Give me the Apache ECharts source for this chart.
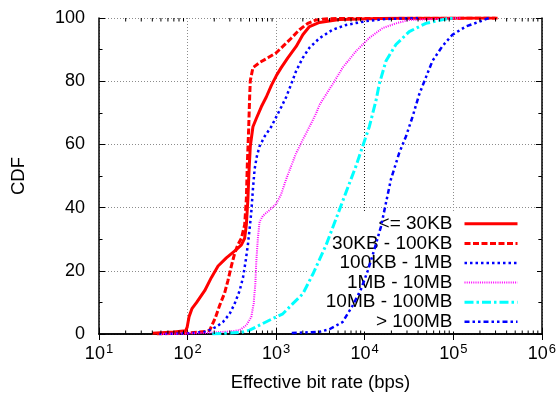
<!DOCTYPE html>
<html>
<head>
<meta charset="utf-8">
<script src="https://cdn.jsdelivr.net/npm/echarts@6/dist/echarts.min.js"></script>
<style>
  html, body { margin: 0; padding: 0; background: #fff; }
  #chart { width: 559px; height: 397px; }
</style>
</head>
<body>
<div id="chart"></div>
<script>
// CDF of effective bit rate, one curve per transfer-size class: [bps, percent]
const seriesNames = ['<= 30KB', '30KB - 100KB', '100KB - 1MB', '1MB - 10MB', '10MB - 100MB', '> 100MB'];

const upTo30KB = [[40,0.2],[70,0.6],[95,1.0],[99,2.2],[104,5.5],[112,8],[126,9.9],[156,13.7],[186,17.9],[221,21.5],[274,24.1],[355,26.7],[405,28.2],[441,30.3],[461,34.6],[480,42.8],[493,51.1],[511,59.5],[547,65.6],[597,68.2],[680,71.9],[774,75],[881,78.6],[1003,81.7],[1141,84.3],[1354,87.4],[1684,91],[2000,94.7],[2378,97.3],[3082,98.6],[5176,99.5],[20000,99.9],[316000,100]];

const from30To100KB = [[45,0],[100,0.3],[160,0.8],[178,1.2],[205,5],[230,9],[262,13],[286,17],[312,21.5],[340,25.5],[370,28.3],[405,30.3],[441,34.5],[461,42.8],[473,54],[489,64.6],[502,75],[511,80.2],[547,84.3],[650,85.9],[806,87.4],[1003,89],[1190,91],[1480,93.6],[1834,96.3],[2275,98.3],[2828,99.4],[4000,99.8],[300000,100]];

const from100KBTo1MB = [[48,0],[100,0.2],[163,0.7],[212,2.3],[251,3.8],[299,6.4],[340,9.6],[387,13.7],[422,17.8],[452,23],[480,28.3],[502,33.4],[524,38.6],[547,45.9],[571,52.1],[606,56.3],[650,59.4],[740,62.5],[881,65.6],[1003,68.7],[1141,71.8],[1299,75],[1480,79.1],[1684,83.3],[2000,87.4],[2378,90.6],[3082,93.6],[4350,96.3],[6160,97.8],[10340,99],[17370,99.7],[40000,100]];

const from1To10MB = [[50,0],[150,0.3],[300,0.8],[387,1.2],[461,2.8],[524,5.4],[557,9.6],[582,15.8],[597,23],[622,30.3],[650,35.5],[708,37.4],[881,39.7],[1003,41.2],[1141,44.3],[1299,49],[1480,53.2],[1684,57.3],[2000,61.5],[2378,65.6],[2828,69.8],[3082,72.5],[4350,79.1],[5638,84.3],[7980,89.5],[11270,93.7],[15910,96.8],[22520,98.3],[31800,99.4],[82330,99.8],[120000,100]];

const from10To100MB = [[190,0],[400,0.5],[502,1.2],[650,2.8],[918,4.9],[1190,6.4],[1542,9.6],[2000,12.7],[2591,18.9],[3666,28.2],[4752,36.5],[6160,44.9],[7980,53.2],[9470,59.4],[11270,65.6],[13410,73.9],[14600,79.1],[17370,86.4],[22520,91.6],[31800,95.7],[49020,98.3],[82330,99.7],[107500,100]];

const over100MB = [[1500,0.3],[3082,0.7],[3995,1.5],[5638,3.8],[7305,9],[9085,14.2],[10780,19.9],[12830,26.7],[15260,34],[17370,41.5],[19780,49],[24520,57.3],[29180,62.5],[34630,68.7],[41200,75.8],[49020,81.2],[58160,86.4],[75400,91.1],[97700,94.7],[138300,97.3],[195200,98.8],[251000,100]];

const curves = [upTo30KB, from30To100KB, from100KBTo1MB, from1To10MB, from10To100MB, over100MB];

// Axis ranges and ticks
const xMin = 10, xMax = 1e6;
const yMin = 0, yMax = 100, yStep = 20;
// Logarithmic minor ticks (2..9 within each decade)
const xMinorTicks = [];
for (let d = 10; d < xMax; d *= 10) {
  for (let m = 2; m <= 9; m++) xMinorTicks.push(d * m);
}

const FONT = '"Liberation Sans", Arial, Helvetica, sans-serif';

const lineStyles = [
  { color: '#ff0000', width: 3, type: 'solid' },
  { color: '#ff0000', width: 3, type: [6, 2.5] },
  { color: '#0000ff', width: 2.5, type: [2.5, 3] },
  { color: '#ff00ff', width: 2, type: [1, 1.2] },
  { color: '#00ffff', width: 3, type: [9, 3, 2.5, 3] },
  { color: '#0000ff', width: 2.5, type: [5, 3, 2.5, 3, 2.5, 3] }
];

const lineSeries = curves.map((data, i) => ({
  name: seriesNames[i],
  type: 'line',
  data: data,
  symbol: 'none',
  smooth: false,
  z: 2,
  lineStyle: lineStyles[i],
  itemStyle: { color: lineStyles[i].color },
  emphasis: { disabled: true }
}));

const minorTickSeries = {
  type: 'custom',
  silent: true,
  clip: false,
  z: 3,
  data: xMinorTicks.map(v => [v, yMin]),
  encode: { x: 0, y: 1 },
  renderItem: function (params, api) {
    const v = api.value(0);
    const b = api.coord([v, yMin]);
    const t = api.coord([v, yMax]);
    return {
      type: 'group',
      children: [
        { type: 'line', shape: { x1: b[0], y1: b[1], x2: b[0], y2: b[1] - 3.5 }, style: { stroke: '#000', lineWidth: 1 } },
        { type: 'line', shape: { x1: t[0], y1: t[1], x2: t[0], y2: t[1] + 3.5 }, style: { stroke: '#000', lineWidth: 1 } }
      ]
    };
  }
};

const gridGrey = '#8c8c8c';
const axisBlack = { lineStyle: { color: '#000', width: 1.5 } };

const chart = echarts.init(document.getElementById('chart'), null, { renderer: 'canvas' });
chart.setOption({
  animation: false,
  backgroundColor: '#fff',
  grid: { left: 99, right: 16, top: 18, bottom: 58, containLabel: false },
  xAxis: [
    {
      type: 'log', logBase: 10, min: xMin, max: xMax,
      position: 'bottom',
      name: 'Effective bit rate (bps)', nameLocation: 'middle', nameGap: 39,
      nameTextStyle: { fontFamily: FONT, fontSize: 18.5, color: '#000' },
      axisLine: axisBlack,
      axisTick: { show: true, inside: true, length: 6, lineStyle: { color: '#000', width: 1 } },
      minorTick: { show: false },
      splitLine: { show: true, lineStyle: { color: [gridGrey, gridGrey, gridGrey, '#222', gridGrey, gridGrey], width: 1, type: [1, 2] } },
      axisLabel: {
        margin: 9,
        fontFamily: FONT, color: '#000',
        formatter: function (v) {
          const e = Math.round(Math.log10(v));
          return '{b|10}{s|' + e + '}';
        },
        rich: {
          b: { fontFamily: FONT, fontSize: 18, color: '#000' },
          s: { fontFamily: FONT, fontSize: 13, color: '#000', padding: [0, 0, 10, 1] }
        }
      }
    },
    {
      type: 'log', logBase: 10, min: xMin, max: xMax,
      position: 'top',
      axisLine: axisBlack,
      axisTick: { show: true, inside: true, length: 6, lineStyle: { color: '#000', width: 1 } },
      axisLabel: { show: false },
      splitLine: { show: false }
    }
  ],
  yAxis: [
    {
      type: 'value', min: yMin, max: yMax, interval: yStep,
      position: 'left',
      name: 'CDF', nameLocation: 'middle', nameGap: 71, nameRotate: 90,
      nameTextStyle: { fontFamily: FONT, fontSize: 18.5, color: '#000' },
      axisLine: { show: true, lineStyle: { color: '#000', width: 1.5 } },
      axisTick: { show: true, inside: true, length: 6, lineStyle: { color: '#000', width: 1 } },
      minorTick: { show: true, splitNumber: 2, length: 3.5, lineStyle: { color: '#000', width: 1 } },
      splitLine: { show: true, lineStyle: { color: gridGrey, width: 1, type: [1, 2] } },
      axisLabel: { margin: 14, fontFamily: FONT, fontSize: 18, color: '#000' }
    },
    {
      type: 'value', min: yMin, max: yMax, interval: yStep,
      position: 'right',
      axisLine: { show: true, lineStyle: { color: '#000', width: 1.5 } },
      axisTick: { show: true, inside: true, length: 6, lineStyle: { color: '#000', width: 1 } },
      minorTick: { show: true, splitNumber: 2, length: 3.5, lineStyle: { color: '#000', width: 1 } },
      splitLine: { show: false },
      axisLabel: { show: false }
    }
  ],
  legend: {
    data: seriesNames,
    orient: 'vertical',
    align: 'right',
    right: 22,
    top: 213,
    z: 1,
    padding: [1, 18, 0, 18],
    itemGap: 0,
    itemWidth: 53,
    itemHeight: 14,
    backgroundColor: '#fff',
    selectedMode: false,
    itemStyle: { opacity: 0 },
    lineStyle: { width: 'inherit' },
    textStyle: { fontFamily: FONT, fontSize: 19, color: '#000', lineHeight: 19.6, padding: [0, 7, 0, 0] }
  },
  series: lineSeries.concat([minorTickSeries])
});
</script>
</body>
</html>
